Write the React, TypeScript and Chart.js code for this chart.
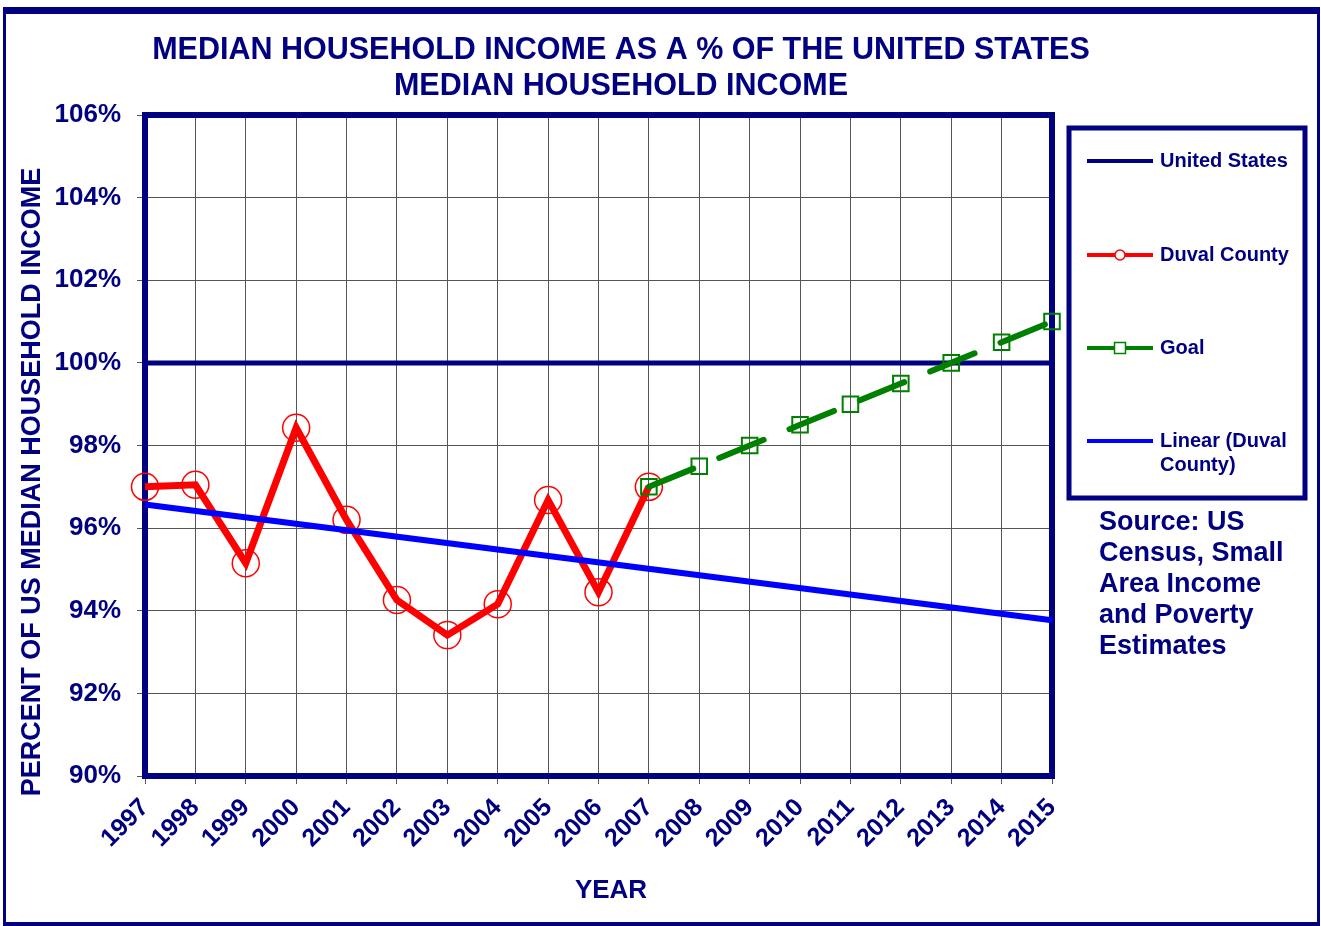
import React, { useEffect, useRef } from 'react';
import { Chart, registerables } from 'chart.js';

Chart.register(...registerables);

const years = ['1997', '1998', '1999', '2000', '2001', '2002', '2003', '2004', '2005', '2006', '2007', '2008', '2009', '2010', '2011', '2012', '2013', '2014', '2015'];
const unitedStates = [100, 100, 100, 100, 100, 100, 100, 100, 100, 100, 100, 100, 100, 100, 100, 100, 100, 100, 100];
const duvalCounty = [97.0, 97.05, 95.15, 98.43, 96.2, 94.26, 93.41, 94.16, 96.68, 94.45, 97.0, null, null, null, null, null, null, null, null];
const goal = [null, null, null, null, null, null, null, null, null, null, 97.0, 97.5, 98.0, 98.5, 99.0, 99.5, 100.0, 100.5, 101.0];
const linearDuval = [96.57, null, null, null, null, null, null, null, null, null, null, null, null, null, null, null, null, null, 93.77];
const titleLines = ['MEDIAN HOUSEHOLD INCOME AS A % OF THE UNITED STATES', 'MEDIAN HOUSEHOLD INCOME'];
const yAxisTitle = 'PERCENT OF US MEDIAN HOUSEHOLD INCOME';
const xAxisTitle = 'YEAR';
const sourceLines = ['Source: US', 'Census, Small', 'Area Income', 'and Poverty', 'Estimates'];
const legendItems = [
  { label: ['United States'], color: '#000080', marker: 'none' },
  { label: ['Duval County'], color: '#FF0000', marker: 'circle' },
  { label: ['Goal'], color: '#008000', marker: 'rect' },
  { label: ['Linear (Duval', 'County)'], color: '#0000FF', marker: 'none' },
];

const NAVY = '#000080';
const FONT = '"Liberation Sans", Arial, sans-serif';

const decorPlugin = {
  id: 'decor',
  beforeDatasetsDraw(chart: any) {
    const { ctx, chartArea } = chart;
    ctx.save();
    ctx.strokeStyle = NAVY;
    ctx.lineWidth = 6;
    ctx.strokeRect(chartArea.left, chartArea.top, chartArea.right - chartArea.left, chartArea.bottom - chartArea.top);
    ctx.restore();
  },
  afterDraw(chart: any) {
    const { ctx } = chart;
    ctx.save();
    // outer frame
    ctx.fillStyle = NAVY;
    ctx.fillRect(3, 7, 1317, 7);
    ctx.fillRect(3, 7, 3, 919);
    ctx.fillRect(1317, 7, 3, 919);
    ctx.fillRect(3, 922, 1317, 4);

    // title
    ctx.fillStyle = NAVY;
    ctx.textAlign = 'center';
    ctx.textBaseline = 'middle';
    ctx.font = `bold 30.5px ${FONT}`;
    ctx.fillText(titleLines[0], 621, 51);
    ctx.fillText(titleLines[1], 621, 87);

    // axis titles
    ctx.font = `bold 26px ${FONT}`;
    ctx.fillText(xAxisTitle, 611, 891);
    ctx.font = `bold 27px ${FONT}`;
    ctx.save();
    ctx.translate(33, 482);
    ctx.rotate(-Math.PI / 2);
    ctx.fillText(yAxisTitle, 0, 0);
    ctx.restore();

    // legend box
    ctx.strokeStyle = NAVY;
    ctx.lineWidth = 5;
    ctx.strokeRect(1069, 128, 236, 370);
    const ys = [161, 255, 348, 441];
    legendItems.forEach((it, i) => {
      const y = ys[i];
      ctx.strokeStyle = it.color;
      ctx.lineWidth = 4;
      ctx.beginPath();
      ctx.moveTo(1087, y);
      ctx.lineTo(1153, y);
      ctx.stroke();
      ctx.lineWidth = 1.5;
      if (it.marker === 'circle') {
        ctx.fillStyle = '#FFFFFF';
        ctx.beginPath();
        ctx.arc(1120, y, 5, 0, Math.PI * 2);
        ctx.fill();
        ctx.stroke();
      } else if (it.marker === 'rect') {
        ctx.fillStyle = '#FFFFFF';
        ctx.fillRect(1114.5, y - 5.5, 11, 11);
        ctx.strokeRect(1114.5, y - 5.5, 11, 11);
      }
      ctx.fillStyle = NAVY;
      ctx.textAlign = 'left';
      ctx.textBaseline = 'middle';
      ctx.font = `bold 20px ${FONT}`;
      it.label.forEach((t, j) => ctx.fillText(t, 1160, y + j * 24));
    });

    // source text
    ctx.font = `bold 27px ${FONT}`;
    ctx.fillStyle = NAVY;
    ctx.textAlign = 'left';
    sourceLines.forEach((t, j) => ctx.fillText(t, 1099, 523 + j * 31));
    ctx.restore();
  },
};

export default function App() {
  const ref = useRef<HTMLCanvasElement | null>(null);
  useEffect(() => {
    if (!ref.current) return;
    const chart = new Chart(ref.current, {
      type: 'line',
      data: {
        labels: years,
        datasets: [
          {
            label: 'Linear (Duval County)',
            data: linearDuval,
            borderColor: '#0000FF',
            borderWidth: 6,
            pointRadius: 0,
            spanGaps: true,
            order: 1,
            clip: false,
          },
          {
            label: 'Goal',
            data: goal,
            borderColor: '#008000',
            borderWidth: 6,
            borderDash: [48, 28],
            borderCapStyle: 'round',
            pointStyle: 'rect',
            pointRadius: 11,
            pointBorderWidth: 2,
            pointBorderColor: '#008000',
            pointBackgroundColor: 'rgba(0,0,0,0)',
            order: 2,
            clip: false,
          },
          {
            label: 'Duval County',
            data: duvalCounty,
            borderColor: '#FF0000',
            borderWidth: 7,
            pointStyle: 'circle',
            pointRadius: 13.5,
            pointBorderWidth: 1.5,
            pointBorderColor: '#FF0000',
            pointBackgroundColor: 'rgba(0,0,0,0)',
            order: 3,
            clip: false,
          },
          {
            label: 'United States',
            data: unitedStates,
            borderColor: NAVY,
            borderWidth: 5,
            pointRadius: 0,
            order: 4,
            clip: false,
          },
        ],
      },
      options: {
        responsive: false,
        animation: false,
        devicePixelRatio: 1,
        layout: { padding: { left: 0, top: 115, right: 269, bottom: 0 } },
        plugins: { legend: { display: false }, title: { display: false }, tooltip: { enabled: false } },
        elements: { line: { tension: 0 } },
        scales: {
          x: {
            type: 'category',
            offset: false,
            afterFit: (s: any) => { s.height = 150; },
            grid: { color: '#555', lineWidth: 1, tickLength: 8, tickColor: '#555', offset: false },
            border: { display: false },
            ticks: {
              autoSkip: false,
              minRotation: 45,
              maxRotation: 45,
              padding: 9,
              color: NAVY,
              font: { family: FONT, size: 25, weight: 'bold' },
            },
          },
          y: {
            min: 90,
            max: 106,
            afterFit: (s: any) => { s.width = 145; },
            grid: { color: '#555', lineWidth: 1, tickLength: 8, tickColor: '#555' },
            border: { display: false },
            ticks: {
              stepSize: 2,
              padding: 16,
              color: NAVY,
              font: { family: FONT, size: 26, weight: 'bold' },
              callback: (v: any) => `${v}%`,
            },
          },
        },
      },
      plugins: [decorPlugin],
    } as any);
    return () => chart.destroy();
  }, []);
  return (
    <div style={{ position: 'fixed', left: 0, top: 0, width: 1321, height: 926, background: '#fff' }}>
      <canvas ref={ref} width={1321} height={926} />
    </div>
  );
}
